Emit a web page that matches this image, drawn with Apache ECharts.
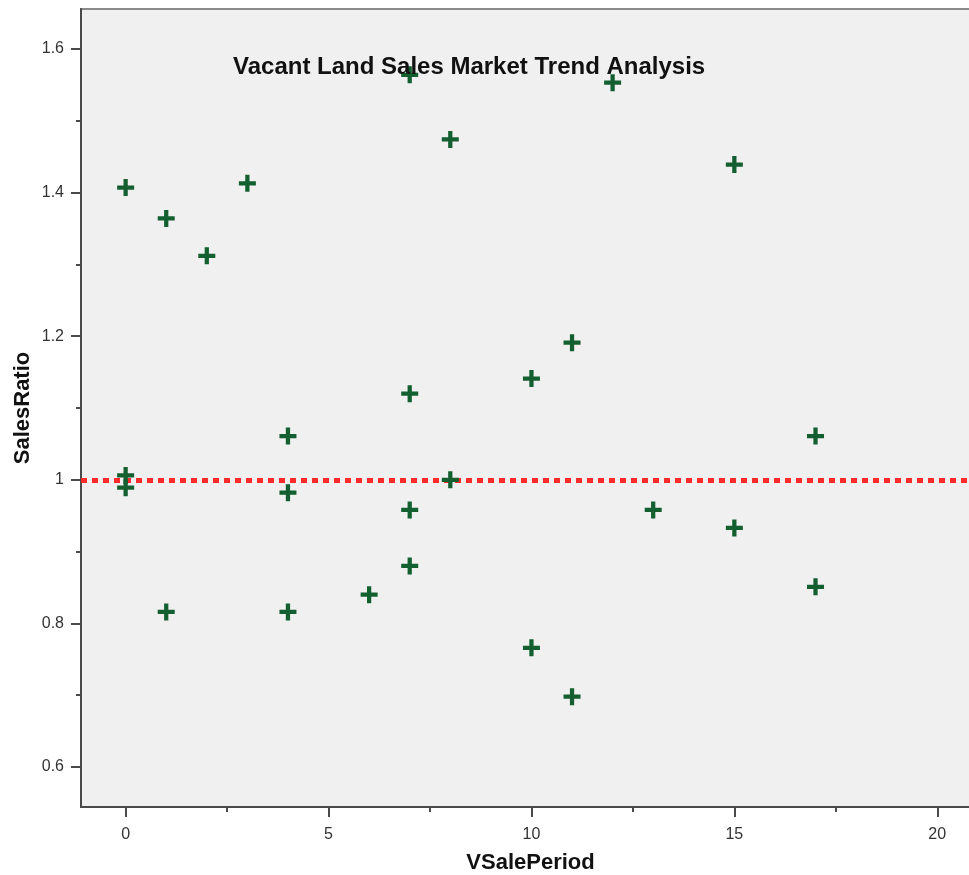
<!DOCTYPE html>
<html>
<head>
<meta charset="utf-8">
<script src="https://cdn.jsdelivr.net/npm/echarts@6/dist/echarts.min.js"></script>
<style>
html,body{margin:0;padding:0;background:#fff;}
#chart{width:969px;height:875px;}
</style>
</head>
<body>
<div id="chart"></div>
<script>
// Data
var vSalePeriod = [0, 0, 0, 1, 1, 2, 3, 4, 4, 4, 6, 7, 7, 7, 7, 8, 8, 10, 10, 11, 11, 12, 13, 15, 15, 17, 17];
var salesRatio = [1.407, 1.006, 0.989, 1.364, 0.816, 1.312, 1.413, 1.061, 0.982, 0.816, 0.840, 1.564, 1.120, 0.958, 0.880, 1.474, 1.000, 1.141, 0.766, 1.191, 0.698, 1.553, 0.958, 1.439, 0.933, 1.061, 0.851];
var xTickLabels = [0, 5, 10, 15, 20];
var xMinorTicks = [2.5, 7.5, 12.5, 17.5];
var yTickLabels = [0.6, 0.8, 1.0, 1.2, 1.4, 1.6];
var yMinorTicks = [0.7, 0.9, 1.1, 1.3, 1.5];
var referenceRatio = 1.0;

var points = vSalePeriod.map(function (x, i) { return [x, salesRatio[i]]; });

var xRange = { min: -1.1, max: 20.856 };
var yRange = { min: 0.5443, max: 1.6557 };
var axisColor = '#4a4a4a';
var labelStyle = { color: '#333', fontSize: 16, fontFamily: 'Liberation Sans, Arial, sans-serif' };

var chart = echarts.init(document.getElementById('chart'), null, { renderer: 'canvas' });
chart.setOption({
  animation: false,
  backgroundColor: '#ffffff',
  title: {
    text: 'Vacant Land Sales Market Trend Analysis',
    left: 233, top: 55, padding: 0,
    textStyle: { fontSize: 24, fontWeight: 'bold', color: '#111', fontFamily: 'Liberation Sans, Arial, sans-serif' }
  },
  grid: {
    left: 81, top: 9, right: -3, bottom: 68,
    outerBoundsMode: 'none', containLabel: false,
    show: true, backgroundColor: '#f0f0f0', borderColor: '#8a8a8a', borderWidth: 2
  },
  xAxis: [{
    type: 'value', min: xRange.min, max: xRange.max, position: 'bottom',
    name: 'VSalePeriod', nameLocation: 'middle', nameGap: 45, nameMoveOverlap: false,
    nameTextStyle: { fontSize: 22, fontWeight: 'bold', color: '#111', fontFamily: 'Liberation Sans, Arial, sans-serif', padding: [0, 0, 0, 8] },
    axisLine: { show: true, onZero: false, lineStyle: { color: axisColor, width: 2 } },
    axisTick: { show: true, length: 10, lineStyle: { color: axisColor, width: 2 }, customValues: xTickLabels },
    axisLabel: Object.assign({ margin: 20, customValues: xTickLabels }, labelStyle),
    splitLine: { show: false }
  }, {
    type: 'value', min: xRange.min, max: xRange.max, position: 'bottom',
    axisLine: { show: false, onZero: false },
    axisTick: { show: true, length: 5, lineStyle: { color: axisColor, width: 2 }, customValues: xMinorTicks },
    axisLabel: { show: false },
    splitLine: { show: false }
  }],
  yAxis: [{
    type: 'value', min: yRange.min, max: yRange.max, position: 'left',
    name: 'SalesRatio', nameLocation: 'middle', nameGap: 47, nameMoveOverlap: false,
    nameTextStyle: { fontSize: 22, fontWeight: 'bold', color: '#111', fontFamily: 'Liberation Sans, Arial, sans-serif' },
    axisLine: { show: true, onZero: false, lineStyle: { color: axisColor, width: 2 } },
    axisTick: { show: true, length: 10, lineStyle: { color: axisColor, width: 2 }, customValues: yTickLabels },
    axisLabel: Object.assign({
      margin: 17, customValues: yTickLabels,
      formatter: function (v) { return String(parseFloat(v.toFixed(2))); }
    }, labelStyle),
    splitLine: { show: false }
  }, {
    type: 'value', min: yRange.min, max: yRange.max, position: 'left',
    axisLine: { show: false, onZero: false },
    axisTick: { show: true, length: 5, lineStyle: { color: axisColor, width: 2 }, customValues: yMinorTicks },
    axisLabel: { show: false },
    splitLine: { show: false }
  }],
  series: [{
    type: 'scatter',
    xAxisIndex: 0, yAxisIndex: 0,
    data: points,
    symbol: 'path://M6,0h4v6h6v4h-6v6h-4v-6h-6v-4h6z',
    symbolSize: 17,
    itemStyle: { color: '#135f30', opacity: 1 },
    z: 3,
    markLine: {
      silent: true,
      symbol: ['none', 'none'],
      label: { show: false },
      lineStyle: { color: '#ff2b2b', width: 5, type: [6, 5] },
      data: [{ yAxis: referenceRatio }],
      z: 2
    }
  }]
});
</script>
</body>
</html>
